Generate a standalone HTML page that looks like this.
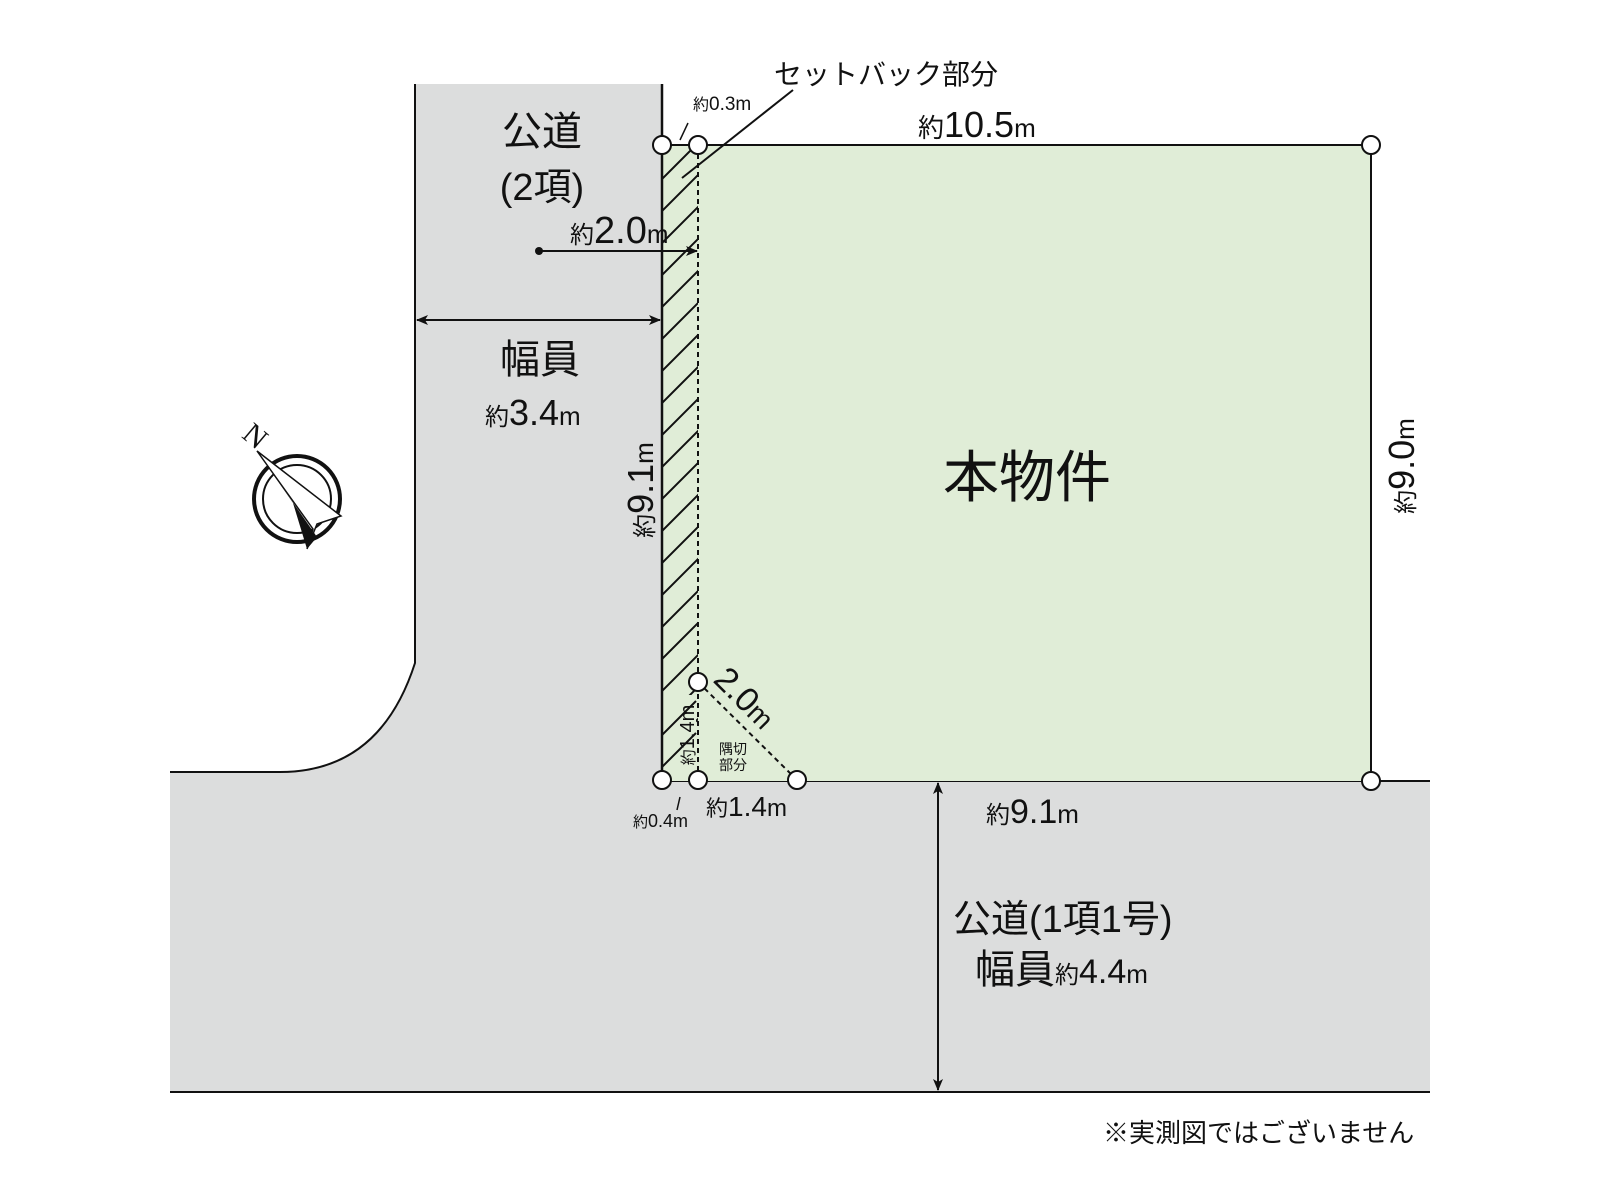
<!DOCTYPE html>
<html><head><meta charset="utf-8"><style>
html,body{margin:0;padding:0;background:#fff}
svg{display:block}
text{font-family:"Liberation Sans","Noto Sans CJK JP",sans-serif;fill:#111}
</style></head><body>
<svg width="1600" height="1200" viewBox="0 0 1600 1200" xmlns="http://www.w3.org/2000/svg">
<defs>
<clipPath id="hc"><rect x="662" y="145" width="36" height="635"/></clipPath>
<marker id="ah" markerWidth="12" markerHeight="10" refX="11" refY="5" orient="auto-start-reverse" markerUnits="userSpaceOnUse"><path d="M0,0 L12,5 L0,10 L3,5 z" fill="#111"/></marker>
</defs>
<path d="M415,84 L662,84 L662,781 L1430,781 L1430,1092 L170,1092 L170,772 L280,772 Q380,772 415,663 Z" fill="#dcdddd"/>
<path d="M415,84 L415,663 Q380,772 280,772 L170,772" fill="none" stroke="#111" stroke-width="2"/>
<line x1="170" y1="1092" x2="1430" y2="1092" stroke="#111" stroke-width="2"/>
<line x1="662" y1="781" x2="1430" y2="781" stroke="#111" stroke-width="2"/>
<rect x="662" y="145" width="709" height="636" fill="#e0edd7"/>
<g clip-path="url(#hc)" stroke="#111" stroke-width="2">
<path d="M662,179 l40,-40 M662,211 l40,-40 M662,243 l40,-40 M662,275 l40,-40 M662,307 l40,-40 M662,339 l40,-40 M662,371 l40,-40 M662,403 l40,-40 M662,435 l40,-40 M662,467 l40,-40 M662,499 l40,-40 M662,531 l40,-40 M662,563 l40,-40 M662,595 l40,-40 M662,627 l40,-40 M662,659 l40,-40 M662,691 l40,-40 M662,723 l40,-40 M662,755 l40,-40"/>
</g>
<rect x="662" y="695" width="34" height="84" fill="#e0edd7"/>
<path d="M662,735 l34,-34 M662,767 l34,-34" stroke="#111" stroke-width="2" clip-path="url(#hc)"/>
<line x1="662" y1="84" x2="662" y2="781" stroke="#111" stroke-width="2.5"/>
<line x1="662" y1="145" x2="1371" y2="145" stroke="#111" stroke-width="2"/>
<line x1="1371" y1="145" x2="1371" y2="781" stroke="#111" stroke-width="2"/>
<line x1="698" y1="145" x2="698" y2="780" stroke="#111" stroke-width="2" stroke-dasharray="5,4"/>
<line x1="698" y1="682" x2="797" y2="780" stroke="#111" stroke-width="2" stroke-dasharray="5,4"/>
<line x1="793" y1="90" x2="682" y2="178" stroke="#111" stroke-width="2"/>
<line x1="688" y1="123" x2="680" y2="140" stroke="#111" stroke-width="1.5"/>
<line x1="680" y1="797" x2="677" y2="810" stroke="#111" stroke-width="1.5"/>
<g fill="#fff" stroke="#111" stroke-width="2">
<circle cx="662" cy="145" r="9"/><circle cx="698" cy="145" r="9"/><circle cx="1371" cy="145" r="9"/>
<circle cx="698" cy="682" r="9"/><circle cx="662" cy="780" r="9"/><circle cx="698" cy="780" r="9"/><circle cx="797" cy="780" r="9"/><circle cx="1371" cy="781" r="9"/>
</g>
<circle cx="539" cy="251" r="4" fill="#111"/>
<line x1="539" y1="251" x2="697" y2="251" stroke="#111" stroke-width="2" marker-end="url(#ah)"/>
<line x1="417" y1="320" x2="660" y2="320" stroke="#111" stroke-width="2" marker-start="url(#ah)" marker-end="url(#ah)"/>
<line x1="938" y1="783" x2="938" y2="1090" stroke="#111" stroke-width="2" marker-start="url(#ah)" marker-end="url(#ah)"/>
<g transform="translate(297,499)">
<circle r="43" fill="none" stroke="#111" stroke-width="4"/>
<circle r="34" fill="none" stroke="#111" stroke-width="2"/>
<path d="M-40,-48 L-4,4 L10,50 L20,38 Z" fill="#111"/>
<path d="M-40,-48 L44,17 L20,25 L10,50 L16,30 Z" fill="#fff" stroke="#111" stroke-width="1.5"/>
<text x="-50" y="-60" font-size="30" transform="rotate(40 -50 -70)" style="font-family:'Liberation Serif',serif">N</text>
</g>
<text x="542" y="145" font-size="40" text-anchor="middle">公道</text>
<text x="542" y="200" font-size="38" text-anchor="middle">(2項)</text>
<text x="570" y="243" font-size="24">約<tspan font-size="38">2.0</tspan><tspan font-size="26">m</tspan></text>
<text x="540" y="373" font-size="40" text-anchor="middle">幅員</text>
<text x="485" y="425" font-size="24">約<tspan font-size="36">3.4</tspan><tspan font-size="26">m</tspan></text>
<text x="1027" y="497" font-size="56" text-anchor="middle">本物件</text>
<text x="918" y="137" font-size="26">約<tspan font-size="36">10.5</tspan><tspan font-size="26">m</tspan></text>
<text x="886" y="84" font-size="28" text-anchor="middle">セットバック部分</text>
<text x="693" y="110" font-size="16">約<tspan font-size="19">0.3m</tspan></text>
<text transform="translate(1414,466) rotate(-90)" font-size="24" text-anchor="middle">約<tspan font-size="36">9.0</tspan><tspan font-size="26">m</tspan></text>
<text transform="translate(653,490) rotate(-90)" font-size="24" text-anchor="middle">約<tspan font-size="36">9.1</tspan><tspan font-size="26">m</tspan></text>
<text transform="translate(694,735) rotate(-90)" font-size="16" text-anchor="middle">約<tspan font-size="20">1.4m</tspan></text>
<text transform="translate(737,706) rotate(45)" font-size="34" text-anchor="middle">2.0<tspan font-size="28">m</tspan></text>
<text x="733" y="754" font-size="14" text-anchor="middle">隅切</text>
<text x="733" y="770" font-size="14" text-anchor="middle">部分</text>
<text x="706" y="816" font-size="22">約<tspan font-size="28">1.4</tspan><tspan font-size="24">m</tspan></text>
<text x="633" y="827" font-size="15">約<tspan font-size="18">0.4m</tspan></text>
<text x="986" y="823" font-size="24">約<tspan font-size="34">9.1</tspan><tspan font-size="26">m</tspan></text>
<text x="953" y="932" font-size="38">公道(1項1号)</text>
<text x="975" y="983" font-size="40">幅員<tspan font-size="24">約</tspan><tspan font-size="34">4.4</tspan><tspan font-size="26">m</tspan></text>
<text x="1103" y="1142" font-size="26">※実測図ではございません</text>
</svg>
</body></html>
